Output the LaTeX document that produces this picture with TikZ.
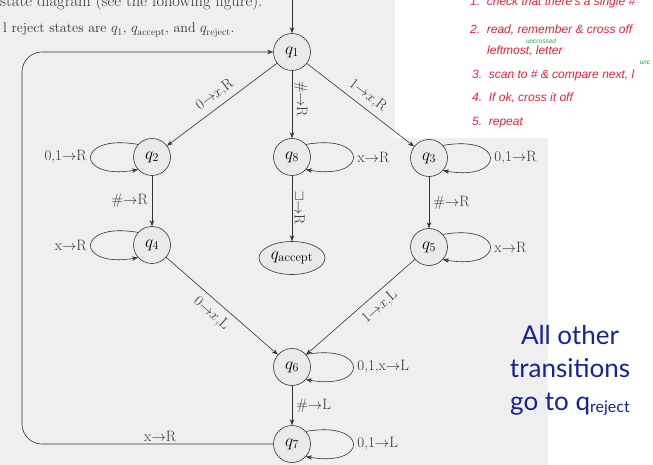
\documentclass[tikz,border=0pt]{standalone}
\usepackage{fontspec}
\usepackage{amsmath}
\usepackage{graphicx}
\usetikzlibrary{arrows.meta,positioning,shapes.geometric}
\newfontfamily\handfont{Liberation Sans}
\newfontfamily\slidefont{Lato}
\definecolor{tmink}  {HTML}{333333}
\definecolor{tmscan} {HTML}{EFEFEF}
\definecolor{tmfill} {HTML}{EAEAEA}
\definecolor{tmred}  {HTML}{E3223F}
\definecolor{tmgreen}{HTML}{22A84A}
\definecolor{tmblue} {HTML}{15229A}
\tikzset{
  tmstate/.style={circle, draw=tmink, fill=tmfill, line width=0.6pt,
                  minimum size=37pt, inner sep=0pt, font=\fontsize{18}{18}\selectfont},
  tmaccept/.style={tmstate, ellipse, minimum width=66pt, minimum height=33pt},
  tmedge/.style={draw=tmink, line width=0.6pt, -{Stealth[length=6pt,width=4.5pt]}},
  tmloop/.style={tmedge, looseness=6.5},
  tmlabel/.style={font=\fontsize{15}{15}\selectfont, text=tmink, inner sep=2pt},
  tmbook/.style={font=\fontsize{16.5}{16.5}\selectfont, text=tmink, inner sep=0pt, anchor=base west},
  tmhand/.style={font=\handfont\itshape\fontsize{12}{12}\selectfont, text=tmred,
                 inner sep=0pt, anchor=base west},
  tmnote/.style={font=\handfont\itshape\fontsize{6.5}{6.5}\selectfont, text=tmgreen, inner sep=0pt},
}
\begin{document}
\begin{tikzpicture}[x=1pt,y=-1pt]
  \useasboundingbox (0,0) rectangle (653,465);
  \clip (0,0) rectangle (653,465);
  % page of the book and the pasted note
  \fill[white] (0,0) rectangle (653,465);
  \fill[tmscan] (0,0) rectangle (548,465);
  \fill[white] (395,0) rectangle (653,138);

  \node[tmbook] (bookone) at (0,7) {state diagram (see the following figure).};
  \node[tmbook,font=\fontsize{14}{14}\selectfont] (booktwo) at (3,33)
    {l reject states are $q_1$, $q_{\text{accept}}$, and $q_{\text{reject}}$.};

  % states
  \node[tmstate]  (q1) at (292,52)  {$q_1$};
  \node[tmstate]  (q2) at (152,157) {$q_2$};
  \node[tmstate]  (q8) at (292,157) {$q_8$};
  \node[tmstate]  (q3) at (429,158) {$q_3$};
  \node[tmstate]  (q4) at (152,245) {$q_4$};
  \node[tmaccept] (qa) at (292,258) {$q_{\text{accept}}$};
  \node[tmstate]  (q5) at (429,247) {$q_5$};
  \node[tmstate]  (q6) at (292,367) {$q_6$};
  \node[tmstate]  (q7) at (292,444) {$q_7$};

  \coordinate (start)   at (292,0);
  \coordinate (botleft) at (22,444);
  \coordinate (topleft) at (22,52);

  % transitions
  \draw[tmedge] (start) -- (q1);
  \draw[tmedge] (q1) -- node[tmlabel,sloped,above=3pt] {0$\rightarrow$$x$,R} (q2);
  \draw[tmedge] (q1) -- node[tmlabel,rotate=-90,anchor=south,pos=0.42] {\#$\rightarrow$R} (q8);
  \draw[tmedge] (q1) -- node[tmlabel,sloped,above=3pt] {1$\rightarrow$$x$,R} (q3);
  \draw[tmedge] (q2) -- node[tmlabel,left=2pt] {\#$\rightarrow$R} (q4);
  \draw[tmedge] (q8) -- node[tmlabel,rotate=-90,anchor=south]
    {\rotatebox{90}{$\sqcup$}$\rightarrow$R} (qa);
  \draw[tmedge] (q3) -- node[tmlabel,right=2pt] {\#$\rightarrow$R} (q5);
  \draw[tmedge] (q4) -- node[tmlabel,sloped,below=4pt,pos=0.48] {0$\rightarrow$$x$,L} (q6);
  \draw[tmedge] (q5) -- node[tmlabel,sloped,below=4pt,pos=0.4] {1$\rightarrow$$x$,L} (q6);
  \draw[tmedge] (q6) -- node[tmlabel,right=2pt] {\#$\rightarrow$L} (q7);
  \draw[tmedge,rounded corners=20pt] (q7) -- node[tmlabel,above,pos=0.45] {x$\rightarrow$R}
    (botleft) -- (topleft) -- (q1);

  % self loops
  \draw[tmloop] (q2.138) to[out=170,in=190] node[tmlabel,left=2pt] {0,1$\rightarrow$R} (q2.222);
  \draw[tmloop] (q4.138) to[out=170,in=190] node[tmlabel,left=2pt] {x$\rightarrow$R} (q4.222);
  \draw[tmloop] (q8.42) to[out=10,in=-10] node[tmlabel,right=2pt] {x$\rightarrow$R} (q8.-42);
  \draw[tmloop] (q3.42) to[out=10,in=-10] node[tmlabel,right=2pt] {0,1$\rightarrow$R} (q3.-42);
  \draw[tmloop] (q5.42) to[out=10,in=-10] node[tmlabel,right=2pt] {x$\rightarrow$R} (q5.-42);
  \draw[tmloop] (q6.42) to[out=10,in=-10] node[tmlabel,right=2pt] {0,1,x$\rightarrow$L} (q6.-42);
  \draw[tmloop] (q7.42) to[out=10,in=-10] node[tmlabel,right=2pt] {0,1$\rightarrow$L} (q7.-42);

  % handwritten plan
  \node[tmhand] (stepone)   at (470,6)   {1.\ \ check that there's a single \#};
  \node[tmhand] (steptwo)   at (470,34)  {2.\ \ read, remember \& cross off};
  \node[tmhand] (steptwob)  at (487,55)  {leftmost, letter};
  \node[tmnote] (uncone)    at (541,41)  {uncrossed};
  \node[tmhand] (stepthree) at (472,79)  {3.\ \ scan to \# \& compare next, l};
  \node[tmnote] (unctwo)    at (645,63)  {unc};
  \node[tmhand] (stepfour)  at (472,102) {4.\ \ If ok, cross it off};
  \node[tmhand] (stepfive)  at (472,126) {5.\ \ repeat};

  % slide remark
  \node[font=\slidefont\fontsize{26}{33}\selectfont, text=tmblue, align=center]
    (remark) at (570,370)
    {All other\\transitions\\go to q\raisebox{-2pt}{\fontsize{16}{16}\selectfont reject}};
\end{tikzpicture}
\end{document}
